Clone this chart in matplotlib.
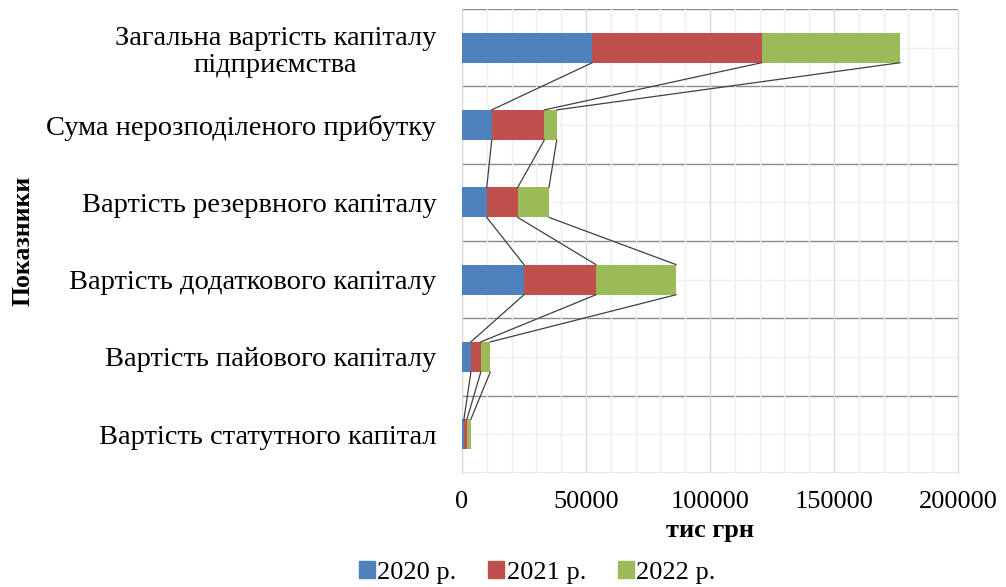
import numpy as np
import matplotlib.pyplot as plt
from matplotlib.patches import Rectangle

plt.rcParams['font.family'] = ['Liberation Serif', 'DejaVu Serif']

# categories from bottom to top
categories = ['Вартість статутного капітал',
              'Вартість пайового капіталу',
              'Вартість додаткового капіталу',
              'Вартість резервного капіталу',
              'Сума нерозподіленого прибутку',
              'Загальна вартість капіталу\nпідприємства']
years = ['2020 р.', '2021 р.', '2022 р.']
v2020 = [800, 3600, 25000, 10000, 12000, 52500]
v2021 = [1200, 4000, 29000, 12500, 21200, 68300]
v2022 = [1600, 3800, 32300, 12600, 5000, 55800]
colors = ['#4F81BD', '#C0504D', '#9BBB59']

fig = plt.figure(figsize=(10.06, 5.87), dpi=100)
ax = fig.add_axes([0.4592, 0.1942, 0.4931, 0.7905])

y = np.arange(len(categories))
h = 0.39
series = [v2020, v2021, v2022]
left = np.zeros(len(categories))
ends = []
for vals, c, lab in zip(series, colors, years):
    ax.barh(y, vals, height=h, left=left, color=c, label=lab, zorder=3)
    left = left + np.array(vals)
    ends.append(left.copy())

# series lines between neighbouring bars
for e in ends:
    for i in range(len(categories) - 1):
        ax.plot([e[i], e[i + 1]], [y[i] + h / 2, y[i + 1] - h / 2],
                color='#404040', lw=0.9, zorder=4)

ax.set_xlim(0, 200000)
ax.set_ylim(-0.5, len(categories) - 0.5)
ax.set_xticks(np.arange(0, 200001, 50000))
ax.set_xticks(np.arange(0, 200001, 10000), minor=True)
ax.set_yticks(y)
ax.set_yticklabels(categories, fontsize=20.5, multialignment='center',
                   linespacing=1.1)
ax.tick_params(axis='x', labelsize=19, length=0, which='both', pad=13)
ax.tick_params(axis='y', length=0, pad=18.5)

ax.grid(axis='x', which='major', color='#d9d9d9', lw=1, zorder=0)
ax.grid(axis='x', which='minor', color='#efefef', lw=1, zorder=0)
for b in np.arange(-0.5, len(categories), 1.0):
    ax.axhline(b, color='#8c8c8c', lw=1, zorder=1)
for c in y:
    ax.axhline(c, color='#efefef', lw=1, zorder=0)

for s in ['top', 'bottom']:
    ax.spines[s].set_visible(False)
ax.spines['left'].set_color('#d9d9d9')
ax.spines['right'].set_color('#d9d9d9')

ax.set_xlabel('тис грн', fontsize=19, fontweight='bold', labelpad=4)
fig.text(0.023, 0.59, 'Показники', rotation=90, fontsize=18.5,
         fontweight='bold', ha='center', va='center')

handles = [Rectangle((0, 0), 1, 1, color=c) for c in colors]
fig.legend(handles, years, loc='center', bbox_to_anchor=(0.534, 0.025),
           ncol=3, frameon=False, fontsize=19, handlelength=0.6,
           handleheight=0.6, handletextpad=0.1, columnspacing=1.2,
           borderpad=0.1)

fig.savefig('out.png', dpi=100)
